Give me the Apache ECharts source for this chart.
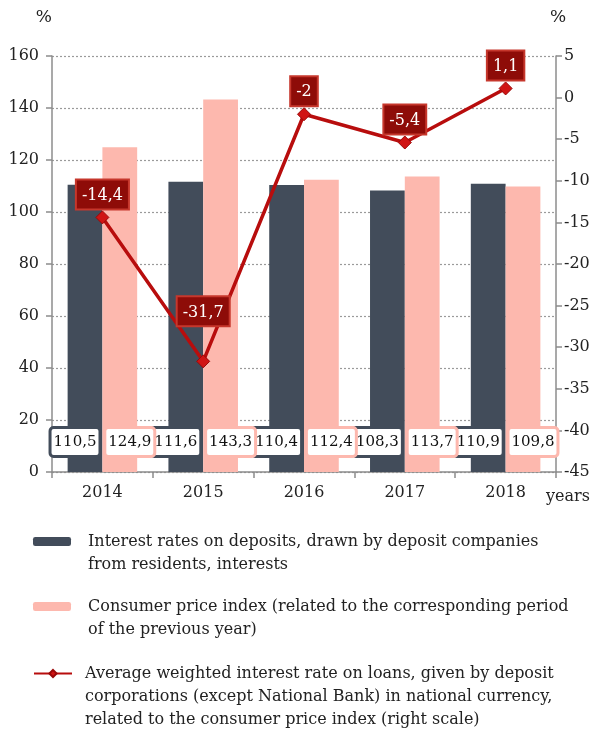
<!DOCTYPE html>
<html>
<head>
<meta charset="utf-8">
<script src="https://cdn.jsdelivr.net/npm/echarts@6/dist/echarts.min.js"></script>
<style>
  html, body { margin: 0; padding: 0; background: #ffffff; }
  #chart { width: 603px; height: 731px; }
</style>
</head>
<body>
<div id="chart"></div>
<script>
// data
const years = ['2014', '2015', '2016', '2017', '2018'];
const depositRates = [110.5, 111.6, 110.4, 108.3, 110.9];
const cpi = [124.9, 143.3, 112.4, 113.7, 109.8];
const loanRate = [-14.4, -31.7, -2, -5.4, 1.1];
// -31,7 label sits much higher above its point
const loanLabelDistance = [2, 29, 2, 2, 2];

const FONT = 'DejaVu Serif';
const DARK = '#424c5a';
const PINK = '#fdb8ae';
const RED = '#b80d0d';

const legendText = {
    dep: 'Interest rates on deposits, drawn by deposit companies\nfrom residents, interests',
    cpi: 'Consumer price index (related to the corresponding period\nof the previous year)',
    loan: 'Average weighted interest rate on loans, given by deposit\ncorporations (except National Bank) in national currency,\nrelated to the consumer price index (right scale)'
};

const comma = v => String(v).replace('.', ',');

function barLabel(border, dx) {
    return {
        show: true,
        position: 'insideBottom',
        distance: 17,
        offset: [dx, 0],
        formatter: p => comma(p.value),
        color: '#111',
        fontFamily: FONT,
        fontSize: 15,
        backgroundColor: '#ffffff',
        borderColor: border,
        borderWidth: 3,
        borderRadius: 2,
        padding: [6, 2, 5, 2]
    };
}

function legendBox(name, top, blankLines, textPad) {
    return {
        data: [name],
        left: 33,
        top: top,
        padding: 0,
        orient: 'vertical',
        itemWidth: 38,
        itemHeight: 9,
        selectedMode: false,
        formatter: n => '\n'.repeat(blankLines) + legendText[n],
        textStyle: {
            fontFamily: FONT,
            fontSize: 16,
            lineHeight: 23,
            color: '#222',
            padding: [0, 0, 0, textPad]
        }
    };
}

const chart = echarts.init(document.getElementById('chart'), null, { renderer: 'canvas' });

chart.setOption({
    backgroundColor: '#ffffff',
    animation: false,
    textStyle: { fontFamily: FONT },
    grid: {
        left: 52,
        right: 47,
        top: 56,
        bottom: 259,
        containLabel: false
    },
    legend: [
        legendBox('dep', 507, 1, 12),
        legendBox('cpi', 572, 1, 12),
        legendBox('loan', 616, 2, 8)
    ],
    xAxis: {
        type: 'category',
        data: years,
        name: 'years',
        nameLocation: 'end',
        nameGap: -10,
        nameTextStyle: {
            fontFamily: FONT,
            fontSize: 16,
            color: '#222',
            align: 'left',
            verticalAlign: 'top',
            padding: [17, 0, 0, 0]
        },
        axisLine: { lineStyle: { color: '#8c8c8c', width: 1.5 } },
        axisTick: { show: true, length: 6, lineStyle: { color: '#8c8c8c', width: 1.5 } },
        axisLabel: {
            color: '#222',
            fontFamily: FONT,
            fontSize: 16,
            margin: 13
        }
    },
    yAxis: [{
        type: 'value',
        min: 0,
        max: 160,
        interval: 20,
        name: '%',
        nameLocation: 'end',
        nameGap: 30,
        nameTextStyle: { fontFamily: FONT, fontSize: 17, color: '#222', align: 'right' },
        axisLine: { show: true, lineStyle: { color: '#8c8c8c', width: 1.5 } },
        axisTick: { show: true, length: 6, lineStyle: { color: '#8c8c8c', width: 1.5 } },
        axisLabel: { color: '#222', fontFamily: FONT, fontSize: 16, margin: 13 },
        splitLine: { show: true, lineStyle: { color: '#9a9a9a', type: [2, 2], width: 1.2 } }
    }, {
        type: 'value',
        min: -45,
        max: 5,
        interval: 5,
        position: 'right',
        name: '%',
        nameLocation: 'end',
        nameGap: 30,
        nameTextStyle: { fontFamily: FONT, fontSize: 17, color: '#222', align: 'left', padding: [0, 0, 0, -6] },
        axisLine: { show: true, lineStyle: { color: '#8c8c8c', width: 1.5 } },
        axisTick: { show: true, length: 6, lineStyle: { color: '#8c8c8c', width: 1.5 } },
        axisLabel: { color: '#222', fontFamily: FONT, fontSize: 16, margin: 8 },
        splitLine: { show: false }
    }],
    series: [{
        name: 'dep',
        type: 'bar',
        data: depositRates,
        barGap: '0%',
        barCategoryGap: '31%',
        itemStyle: { color: DARK },
        label: barLabel(DARK, -10),
        z: 2
    }, {
        name: 'cpi',
        type: 'bar',
        data: cpi,
        itemStyle: { color: PINK },
        label: barLabel(PINK, 10),
        z: 2
    }, {
        name: 'loan',
        type: 'line',
        yAxisIndex: 1,
        data: loanRate.map((v, i) => ({
            value: v,
            label: { distance: loanLabelDistance[i] }
        })),
        symbol: 'diamond',
        symbolSize: 13,
        lineStyle: { color: RED, width: 3.5 },
        itemStyle: { color: '#d01414', borderColor: '#9a0808', borderWidth: 1 },
        label: {
            show: true,
            position: 'top',
            formatter: p => comma(p.value),
            color: '#ffffff',
            fontFamily: FONT,
            fontSize: 16,
            backgroundColor: '#8e0c08',
            borderColor: '#c6372c',
            borderWidth: 2,
            padding: [7, 5, 5, 5]
        },
        z: 5
    }]
});
</script>
</body>
</html>
